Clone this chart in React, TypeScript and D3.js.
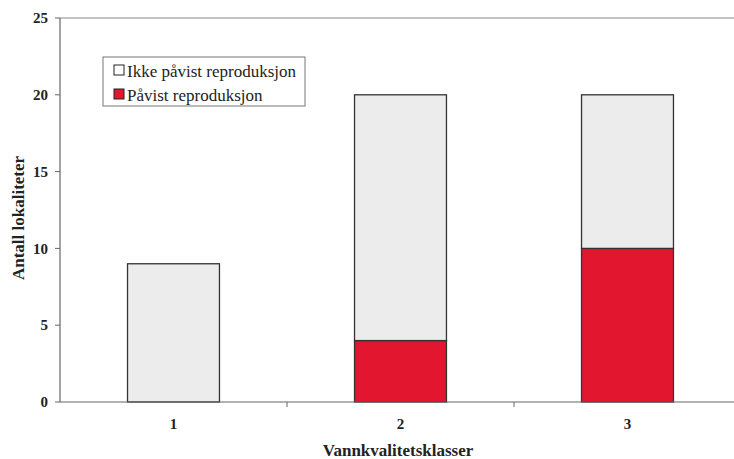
import React from "react";
import * as d3 from "d3";

const categories = ["1", "2", "3"];
const pavist = [0, 4, 10];
const ikkePavist = [9, 16, 10];
const yTicks = [0, 5, 10, 15, 20, 25];
const seriesNames = ["Ikke påvist reproduksjon", "Påvist reproduksjon"];
const seriesColors = ["#ececec", "#e3162f"];

export default function App() {
  const W = 734, H = 459;
  const left = 60, right = 741, top = 18, bottom = 402;
  const y = d3.scaleLinear().domain([0, 25]).range([bottom, top]);
  const x = d3.scaleBand().domain(categories).range([left, right]).paddingInner(0.595).paddingOuter(0.2975);
  const step = x.step();
  const font = "Liberation Serif, Times New Roman, DejaVu Serif, serif";
  const stackData = categories.map((c, i) => ({ cat: c, p: pavist[i], i: ikkePavist[i] }));
  const stack = d3.stack<any>().keys(["p", "i"])(stackData);

  return (
    <svg width={W} height={H} style={{ position: "absolute", left: 0, top: 0, background: "#fff", fontFamily: font }}>
      <line x1={left} x2={W} y1={top} y2={top} stroke="#888" strokeWidth={1.2} />
      {stack.map((layer, li) =>
        layer.map((d, di) => {
          const h = y(d[0]) - y(d[1]);
          if (h <= 0) return null;
          return (
            <rect key={`${li}-${di}`} x={x(categories[di])} y={y(d[1])} width={x.bandwidth()} height={h}
              fill={li === 0 ? seriesColors[1] : seriesColors[0]} stroke="#333" strokeWidth={1.3} />
          );
        })
      )}
      <line x1={left} x2={left} y1={top} y2={bottom} stroke="#666" strokeWidth={1.2} />
      {yTicks.map(t => (
        <g key={t}>
          <line x1={left - 5} x2={left} y1={y(t)} y2={y(t)} stroke="#666" />
          <text x={left - 12} y={y(t)} dy="0.35em" textAnchor="end" fontSize={15} fontWeight="bold" fill="#222" style={{ fontFamily: font }}>{t}</text>
        </g>
      ))}
      <line x1={left} x2={W} y1={bottom} y2={bottom} stroke="#666" strokeWidth={1.2} />
      {[1, 2].map(k => (
        <line key={k} x1={left + k * step} x2={left + k * step} y1={bottom} y2={bottom + 5} stroke="#666" />
      ))}
      {categories.map(c => (
        <text key={c} x={(x(c) as number) + x.bandwidth() / 2} y={429} textAnchor="middle" fontSize={15} fontWeight="bold" fill="#222" style={{ fontFamily: font }}>{c}</text>
      ))}
      <text x={398} y={456} textAnchor="middle" fontSize={17} fontWeight="bold" fill="#222" style={{ fontFamily: font }}>Vannkvalitetsklasser</text>
      <text transform={`translate(24,${(top + bottom) / 2 + 8}) rotate(-90)`} textAnchor="middle" fontSize={17} fontWeight="bold" fill="#222" style={{ fontFamily: font }}>Antall lokaliteter</text>
      <rect x={103} y={57} width={202} height={49} fill="#fff" stroke="#777" />
      <rect x={114} y={65} width={10} height={10} fill="#fff" stroke="#222" />
      <text x={127} y={77} fontSize={17} fill="#222" style={{ fontFamily: font }}>{seriesNames[0]}</text>
      <rect x={114} y={89} width={10} height={10} fill={seriesColors[1]} stroke="#222" />
      <text x={127} y={101} fontSize={17} fill="#222" style={{ fontFamily: font }}>{seriesNames[1]}</text>
    </svg>
  );
}
